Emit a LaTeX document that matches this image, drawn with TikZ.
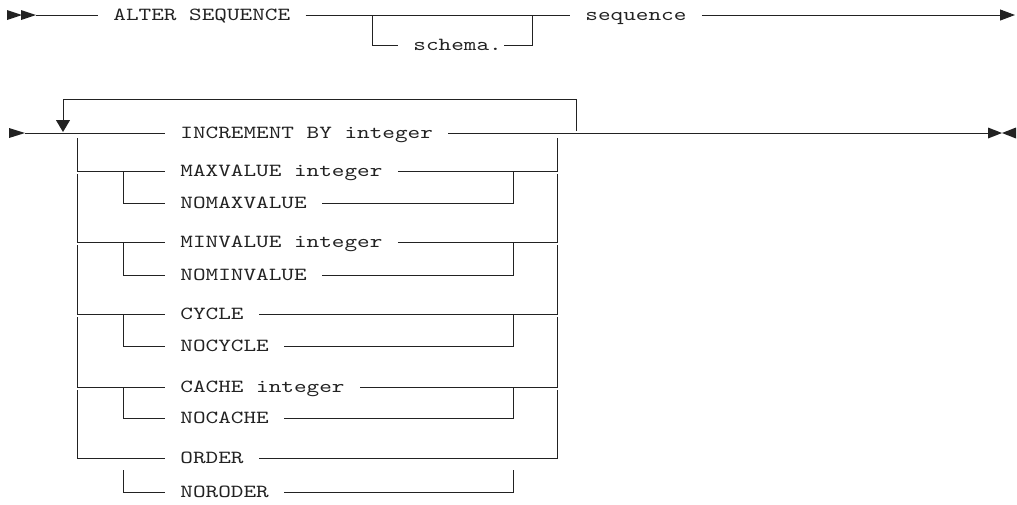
\documentclass[tikz,border=0pt]{standalone}
\usepackage{fontspec}
\newfontfamily\rrfont{lmmono10-regular.otf}[FakeStretch=1.3]
\usetikzlibrary{arrows.meta}
\definecolor{ink}{RGB}{34,34,34}
\begin{document}
\begin{tikzpicture}[x=1pt,y=-1pt,line width=0.9pt,color=ink,
  kw/.style={anchor=west,inner xsep=15pt,inner ysep=0pt,text height=11.3pt,text depth=0pt,
    font=\rrfont\fontsize{18.5pt}{20pt}\selectfont},
  tipfill/.style={fill=ink,draw=none}]
\useasboundingbox (0,0) rectangle (1017,504);
% ---------- row 1 ----------
\fill[tipfill] (7,10) -- (22,15) -- (7,20) -- cycle;
\fill[tipfill] (21,10) -- (36,15) -- (21,20) -- cycle;
\coordinate (a0) at (36,15);
\node[kw] (alter) at (98,15) {ALTER SEQUENCE};
\coordinate (bL) at (372,15);
\coordinate (bR) at (532,15);
\node[kw] (sch) at (398,45) {schema.};
\node[kw] (seq) at (570,15) {sequence};
\coordinate (e1) at (1015,15);
\draw (a0) -- (alter.west);
\draw (alter.east) -- (seq.west);
\draw (bL) |- (sch.west);
\draw ([xshift=-13pt]sch.east) -| (bR);
\draw[-{Triangle[length=15pt,width=11pt]}] (seq.east) -- (e1);
% ---------- row 2 ----------
\fill[tipfill] (9,128) -- (25,133) -- (9,138) -- cycle;
\coordinate (a1) at (25,133);
\node[kw] (inc) at (165,133) {INCREMENT BY integer};
\coordinate (e2) at (988,133);
\draw (a1) -- (inc.west);
\draw (inc.east) -- (e2);
\fill[tipfill] (988,127.5) -- (1002,133) -- (988,138.5) -- cycle;
\fill[tipfill] (1016,127.5) -- (1002,133) -- (1016,138.5) -- cycle;
\coordinate (lr) at (576,131);
\coordinate (lt) at (63,99);
\coordinate (lb) at (63,132);
\draw[-{Triangle[length=12pt,width=14pt]}] (lr) |- (lt) -- (lb);
\foreach \ta/\tb/\ya/\yb/\ys/\yi [count=\i] in {
  MAXVALUE integer/NOMAXVALUE/171/203/138/171,
  MINVALUE integer/NOMINVALUE/242/275/174/242,
  CYCLE/NOCYCLE/314/346/245/314,
  CACHE integer/NOCACHE/387/418/317/387,
  ORDER/NORODER/458/492/390/470}{
  \node[kw] (t\i) at (165,\ya) {\ta};
  \node[kw] (u\i) at (165,\yb) {\tb};
  \coordinate (ol\i) at (77,\ys);
  \coordinate (or\i) at (557,\ys);
  \coordinate (il\i) at (123,\yi);
  \coordinate (ir\i) at (513,\yi);
  \draw (ol\i) |- (t\i.west);
  \draw (t\i.east) -| (or\i);
  \draw (il\i) |- (u\i.west);
  \draw (u\i.east) -| (ir\i);
}
\end{tikzpicture}
\end{document}
